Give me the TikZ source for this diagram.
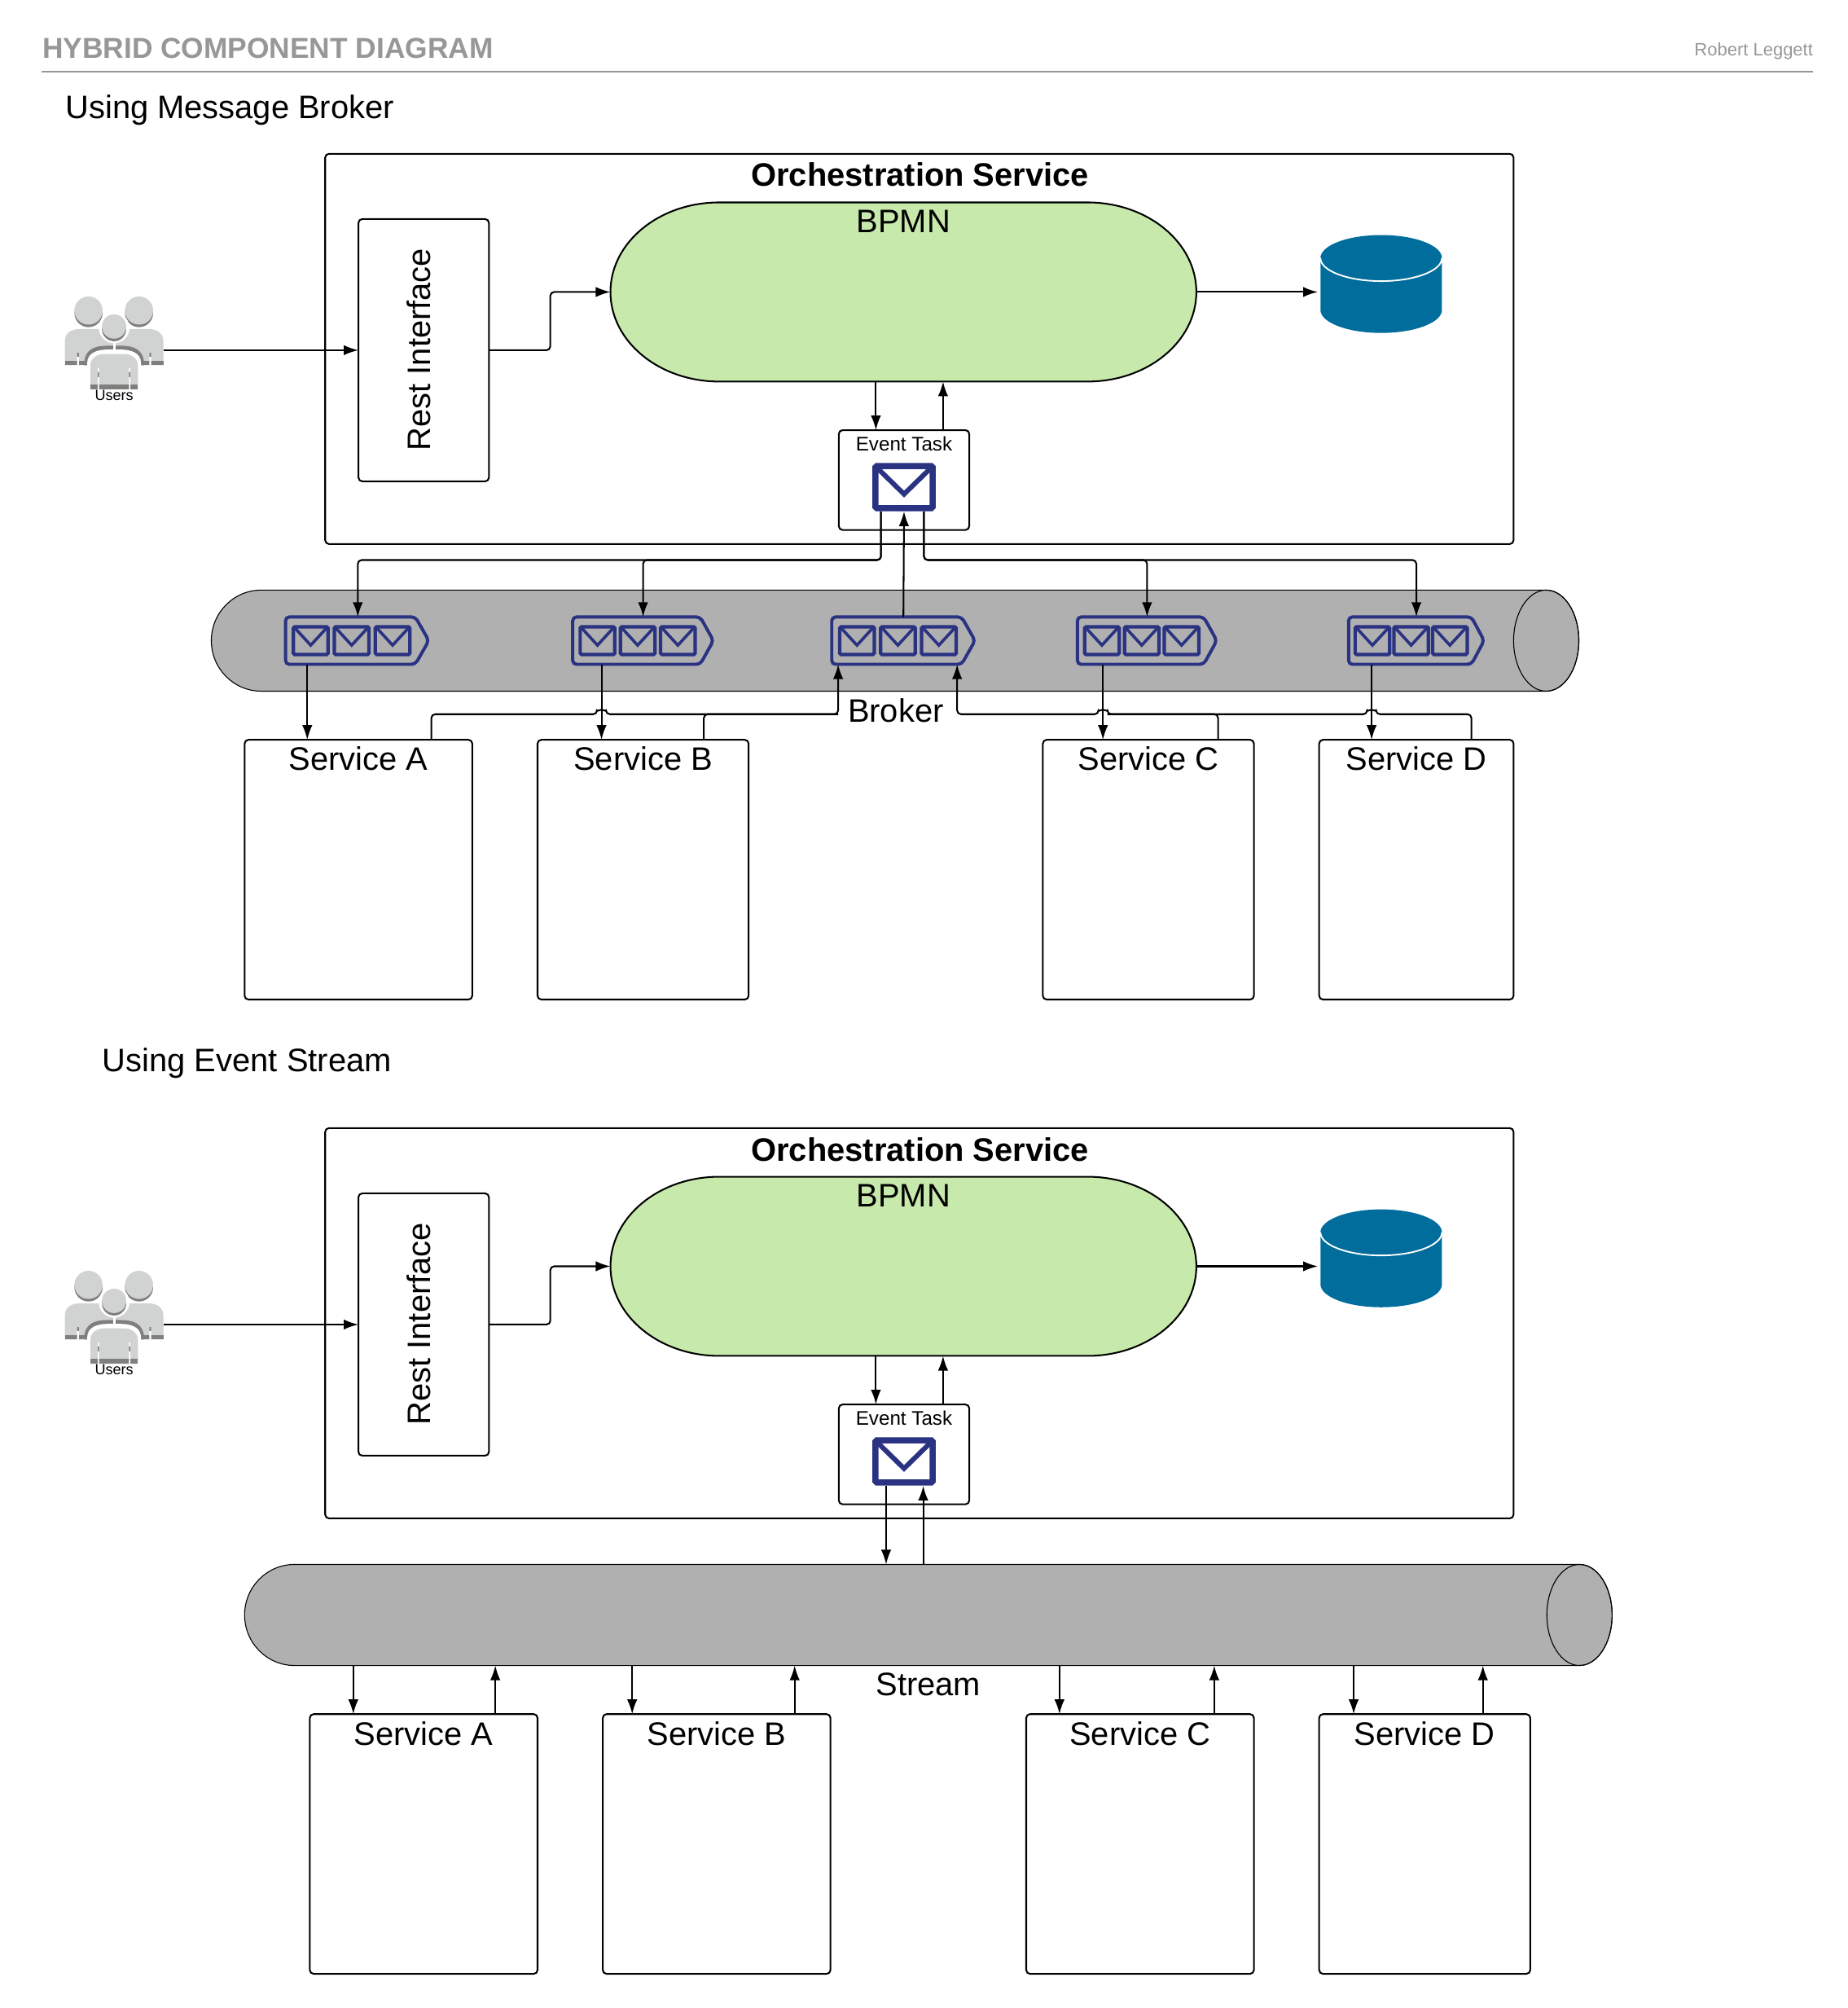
\documentclass[tikz,border=0pt]{standalone}
\usepackage{fontspec}
\setmainfont{Liberation Sans}
\usepackage{tikz}
\usetikzlibrary{arrows.meta}
\definecolor{navymail}{HTML}{2A3282}
\definecolor{bpmngreen}{HTML}{C7E9AB}
\definecolor{pipegrey}{HTML}{B0B0B0}
\definecolor{dbblue}{HTML}{006D9C}
\definecolor{userlight}{HTML}{D1D3D2}
\definecolor{userdark}{HTML}{7F807E}
\definecolor{headgrey}{HTML}{979797}
\tikzset{
  every node/.style={inner sep=0pt, outer sep=0pt},
  bigfont/.style={font=\fontsize{25.4}{30}\selectfont},
  boxline/.style={draw, line width=1.3pt, rounded corners=3pt},
  toplabel/.style={label={[bigfont, anchor=center, yshift=-15pt]north:#1}},
  conn/.style={line width=1.3pt, rounded corners=3pt, -{Latex[length=11.5pt, width=8pt]}},
  plainconn/.style={line width=1.3pt, rounded corners=3pt},
  smallmail/.pic={
    \draw[navymail, line width=2.7pt, rounded corners=1pt] (-13.5,-10.8) rectangle (13.5,10.8);
    \draw[navymail, line width=2.3pt] (-12.5,-10) -- (0,3.6) -- (12.5,-10);
  },
  bigmail/.pic={
    \draw[navymail, fill=white, line width=4.8pt, rounded corners=1pt] (-22.3,-16.5) rectangle (22.3,16.5);
    \draw[navymail, line width=3.8pt] (-21,-15) -- (0,5.5) -- (21,-15);
  },
  queueicon/.pic={
    \draw[navymail, line width=2.5pt, rounded corners=3pt] (0,-18.5) -- (101.5,-18.5) -- (112,0) -- (101.5,18.5) -- (0,18.5) -- cycle;
    \pic at (19.7,0) {smallmail};
    \pic at (51.7,0) {smallmail};
    \pic at (83.7,0) {smallmail};
  },
  bpmnpill/.pic={
    \draw[fill=bpmngreen, line width=1.3pt] (-229,0) arc[start angle=180, end angle=90, x radius=85pt, y radius=70pt] -- (144,-70)
      arc[start angle=90, end angle=-90, x radius=85pt, y radius=70pt] -- (-144,70)
      arc[start angle=270, end angle=180, x radius=85pt, y radius=70pt] -- cycle;
  },
  pipeshape/.pic={
    \draw[fill=pipegrey, line width=0.7pt] (-534.5,0) arc[start angle=180, end angle=90, x radius=39pt, y radius=39.5pt] -- (509,-39.5)
      arc[start angle=90, end angle=-90, x radius=25.5pt, y radius=39.5pt] -- (-495.5,39.5)
      arc[start angle=270, end angle=180, x radius=39pt, y radius=39.5pt] -- cycle;
    \draw[line width=0.7pt] (509,0) ellipse[x radius=25.5pt, y radius=39.5pt];
  },
  dbicon/.pic={
    \fill[dbblue] (-47.5,-20.5) -- (-47.5,20) arc[start angle=180, end angle=360, x radius=47.5pt, y radius=18pt] -- (47.5,-20.5)
      arc[start angle=0, end angle=180, x radius=47.5pt, y radius=18pt] -- cycle;
    \draw[white, line width=1.2pt] (-47.5,-20.5) arc[start angle=180, end angle=360, x radius=47.5pt, y radius=18pt];
  },
  usersicon/.pic={
    \fill[userdark] (-20,-29) circle (11pt) (19.5,-29) circle (11pt);
    \fill[userlight] (-20,-31) circle (11pt) (19.5,-31) circle (11pt);
    \fill[userlight] (-38.5,11.7) -- (-38.5,-7) .. controls (-38.5,-13) and (-34,-16.5) .. (-27,-16.5) -- (27,-16.5)
      .. controls (34,-16.5) and (38.5,-13) .. (38.5,-7) -- (38.5,11.7) -- cycle;
    \fill[userdark] (-38.5,8.5) rectangle (38.5,11.7);
    \fill[userdark] (-23.5,11.7) .. controls (-23.5,-1) and (-15,-3.5) .. (-5,-3.5) -- (5,-3.5) .. controls (15,-3.5) and (23.5,-1) .. (23.5,11.7) -- cycle;
    \fill[white] (-21,32) -- (-21,10) .. controls (-21,2) and (-13,-0.5) .. (-5,-0.5) -- (5,-0.5) .. controls (13,-0.5) and (21,2) .. (21,10) -- (21,32) -- cycle;
    \fill[white] (-1,-8) rectangle (1,1);
    \fill[white] (0,-17.5) circle (12pt);
    \fill[white] (-29,2) rectangle (-27.5,11.7) (27.5,2) rectangle (29,11.7);
    \fill[userdark] (-29,2) rectangle (-27.5,5) (27.5,2) rectangle (29,5);
    \fill[userdark] (0,-16.5) circle (9.5pt);
    \fill[userlight] (0,-18.5) circle (9.5pt);
    \fill[userlight] (-18.6,30.6) -- (-18.6,12) .. controls (-18.6,6) and (-13,3) .. (-8,3) -- (8,3) .. controls (13,3) and (18.6,6) .. (18.6,12) -- (18.6,30.6) -- cycle;
    \fill[userdark] (-18.6,27) rectangle (18.6,30.6);
    \fill[white] (-12.7,14) rectangle (-11.7,30.6) (11.7,14) rectangle (12.7,30.6);
    \fill[userdark] (-12.7,17) rectangle (-11.7,21) (11.7,17) rectangle (12.7,21);
  }
}
\begin{document}
\begin{tikzpicture}[x=1pt, y=-1pt]
    \useasboundingbox (-0.2,-0.2) rectangle (1443.8,1569.2);
    \node[anchor=west, text=headgrey, font=\bfseries\fontsize{22.5}{26}\selectfont] (maintitle) at (33,37.5) {HYBRID COMPONENT DIAGRAM};
    \node[anchor=east, text=headgrey, font=\fontsize{14}{17}\selectfont] (authorname) at (1417,40) {Robert Leggett};
    \draw[headgrey, line width=1.2pt] (32,56) -- (1417,56);
    \node[anchor=west, bigfont] (heading1) at (51,86) {Using Message Broker};
    \node[anchor=west, bigfont] (heading2) at (80,830.5) {Using Event Stream};

    \node[boxline, minimum width=929, minimum height=305] (orch1) at (718.5,272.5) {};
    \node[bigfont, font=\bfseries\fontsize{25.4}{30}\selectfont] (orchname1) at (719,136.5) {Orchestration Service};
    \node[boxline, minimum width=102, minimum height=205] (rest1) at (331,273.5) {};
    \node[bigfont, rotate=90] (resttext1) at (327,273) {Rest Interface};
    \node[minimum width=458, minimum height=140] (bpmn1) at (706,228) {};
    \pic at (bpmn1) {bpmnpill};
    \node[bigfont] (bpmntext1) at ([yshift=-15pt]bpmn1.north) {BPMN};
    \node[minimum width=99, minimum height=76] (db1) at (1079.5,222) {};
    \pic at (db1) {dbicon};
    \node[boxline, minimum width=102, minimum height=78] (task1) at (706.5,375) {};
    \node[font=\fontsize{15.4}{18}\selectfont] (tasktext1) at (706.5,346.5) {Event Task};
    \node[minimum width=49, minimum height=38] (mail1) at (706.5,380.5) {};
    \pic at (mail1) {bigmail};
    \node[minimum width=78, minimum height=60] (users1) at (89,273.5) {};
    \pic at (users1) {usersicon};
    \node[font=\fontsize{11.5}{14}\selectfont] (userstext1) at (89,309) {Users};

    \draw[conn] (users1.east) -- (rest1.west);
    \draw[conn] (rest1.east) -- ++(48,0) |- (bpmn1.west);
    \draw[conn] (bpmn1.east) -- (bpmn1.east -| db1.west);
    \draw[conn] ([xshift=-21.5pt]bpmn1.south) -- ([xshift=-21.5pt]task1.north -| bpmn1.south);
    \draw[conn] ([xshift=30.5pt]task1.north) -- ([xshift=30.5pt]bpmn1.south -| task1.north);

    \node[minimum width=1069, minimum height=79] (pipe1) at (699.5,500.5) {};
    \pic at (pipe1) {pipeshape};
    \node[bigfont] (pipetext1) at (700,555) {Broker};
    \node[minimum width=113, minimum height=37] (queue1) at (279.5,500.5) {};
    \node[minimum width=110, minimum height=37] (queue2) at (502.5,500.5) {};
    \node[minimum width=112, minimum height=37] (queue3) at (706,500.5) {};
    \node[minimum width=109, minimum height=37] (queue4) at (896.5,500.5) {};
    \node[minimum width=106, minimum height=37] (queue5) at (1107,500.5) {};
    \pic at (queue1.west) {queueicon};
    \pic[xscale=0.982] at (queue2.west) {queueicon};
    \pic at (queue3.west) {queueicon};
    \pic[xscale=0.973] at (queue4.west) {queueicon};
    \pic[xscale=0.946] at (queue5.west) {queueicon};

    \node[boxline, minimum width=178, minimum height=203, toplabel={Service A}] (srva1) at (280,679.5) {};
    \node[boxline, minimum width=165, minimum height=203, toplabel={Service B}] (srvb1) at (502.5,679.5) {};
    \node[boxline, minimum width=165, minimum height=203, toplabel={Service C}] (srvc1) at (897.5,679.5) {};
    \node[boxline, minimum width=152, minimum height=203, toplabel={Service D}] (srvd1) at (1107,679.5) {};

    \coordinate (hopa) at (240,558);
    \coordinate (hopb) at (470,558);
    \coordinate (hopc) at (862,558);
    \coordinate (hopd) at (1072,558);

    \draw[conn] ([xshift=-18pt]mail1.south) -- ++(0,38) -| (queue1.north);
    \draw[conn] ([xshift=-18pt]mail1.south) -- ++(0,38) -| (queue2.north);
    \draw[conn] ([xshift=15.5pt]mail1.south) -- ++(0,38) -| (queue4.north);
    \draw[conn] ([xshift=15.5pt]mail1.south) -- ++(0,38) -| (queue5.north);
    \draw[conn] (queue3.north) -- (mail1.south);

    \draw[conn] (queue1.south -| hopa) -- (srva1.north -| hopa);
    \draw[conn] (queue2.south -| hopb) -- (srvb1.north -| hopb);
    \draw[conn] (queue4.south -| hopc) -- (srvc1.north -| hopc);
    \draw[conn] (queue5.south -| hopd) -- (srvd1.north -| hopd);

    \draw[conn] ([xshift=57pt]srva1.north) |- ([xshift=-3.5pt]hopb) arc[start angle=180, end angle=0, radius=3.5pt] -| ([xshift=-51pt]queue3.south);
    \draw[plainconn] ([xshift=47.5pt]srvb1.north) |- ([xshift=-51pt]queue3.south |- hopb);
    \draw[conn] ([xshift=54.5pt]srvc1.north) |- ([xshift=3.5pt]hopc) arc[start angle=0, end angle=180, radius=3.5pt] -| ([xshift=42pt]queue3.south);
    \draw[plainconn] ([xshift=43pt]srvd1.north) |- ([xshift=3.5pt]hopd) arc[start angle=0, end angle=180, radius=3.5pt] -- ([xshift=3.5pt]hopc);

    \node[boxline, minimum width=929, minimum height=305] (orch2) at (718.5,1034) {};
    \node[bigfont, font=\bfseries\fontsize{25.4}{30}\selectfont] (orchname2) at (719,898) {Orchestration Service};
    \node[boxline, minimum width=102, minimum height=205] (rest2) at (331,1035) {};
    \node[bigfont, rotate=90] (resttext2) at (327,1034.5) {Rest Interface};
    \node[minimum width=458, minimum height=140] (bpmn2) at (706,989.5) {};
    \pic at (bpmn2) {bpmnpill};
    \node[bigfont] (bpmntext2) at ([yshift=-15pt]bpmn2.north) {BPMN};
    \node[minimum width=99, minimum height=76] (db2) at (1079.5,983.5) {};
    \pic at (db2) {dbicon};
    \node[boxline, minimum width=102, minimum height=78] (task2) at (706.5,1136.5) {};
    \node[font=\fontsize{15.4}{18}\selectfont] (tasktext2) at (706.5,1108) {Event Task};
    \node[minimum width=49, minimum height=38] (mail2) at (706.5,1142) {};
    \pic at (mail2) {bigmail};
    \node[minimum width=78, minimum height=60] (users2) at (89,1035) {};
    \pic at (users2) {usersicon};
    \node[font=\fontsize{11.5}{14}\selectfont] (userstext2) at (89,1070.5) {Users};

    \draw[conn] (users2.east) -- (rest2.west);
    \draw[conn] (rest2.east) -- ++(48,0) |- (bpmn2.west);
    \draw[conn] (bpmn2.east) -- (bpmn2.east -| db2.west);
    \draw[conn] ([xshift=-21.5pt]bpmn2.south) -- ([xshift=-21.5pt]task2.north -| bpmn2.south);
    \draw[conn] ([xshift=30.5pt]task2.north) -- ([xshift=30.5pt]bpmn2.south -| task2.north);

    \node[minimum width=1069, minimum height=79] (pipe2) at (725.5,1262) {};
    \pic at (pipe2) {pipeshape};
    \node[bigfont] (pipetext2) at (725.5,1316) {Stream};

    \node[boxline, minimum width=178, minimum height=203, toplabel={Service A}] (srva2) at (331,1441) {};
    \node[boxline, minimum width=178, minimum height=203, toplabel={Service B}] (srvb2) at (560,1441) {};
    \node[boxline, minimum width=178, minimum height=203, toplabel={Service C}] (srvc2) at (891,1441) {};
    \node[boxline, minimum width=165, minimum height=203, toplabel={Service D}] (srvd2) at (1113.5,1441) {};

    \draw[conn] ([xshift=-14pt]mail2.south) -- ([xshift=-14pt]mail2.south |- pipe2.north);
    \draw[conn] ([xshift=15pt]mail2.south |- pipe2.north) -- ([xshift=15pt]mail2.south);
    \draw[conn] ([xshift=-55pt]srva2.north |- pipe2.south) -- ([xshift=-55pt]srva2.north);
    \draw[conn] ([xshift=56pt]srva2.north) -- ([xshift=56pt]srva2.north |- pipe2.south);
    \draw[conn] ([xshift=-66pt]srvb2.north |- pipe2.south) -- ([xshift=-66pt]srvb2.north);
    \draw[conn] ([xshift=61pt]srvb2.north) -- ([xshift=61pt]srvb2.north |- pipe2.south);
    \draw[conn] ([xshift=-63pt]srvc2.north |- pipe2.south) -- ([xshift=-63pt]srvc2.north);
    \draw[conn] ([xshift=58pt]srvc2.north) -- ([xshift=58pt]srvc2.north |- pipe2.south);
    \draw[conn] ([xshift=-55.5pt]srvd2.north |- pipe2.south) -- ([xshift=-55.5pt]srvd2.north);
    \draw[conn] ([xshift=45.5pt]srvd2.north) -- ([xshift=45.5pt]srvd2.north |- pipe2.south);
\end{tikzpicture}
\end{document}
